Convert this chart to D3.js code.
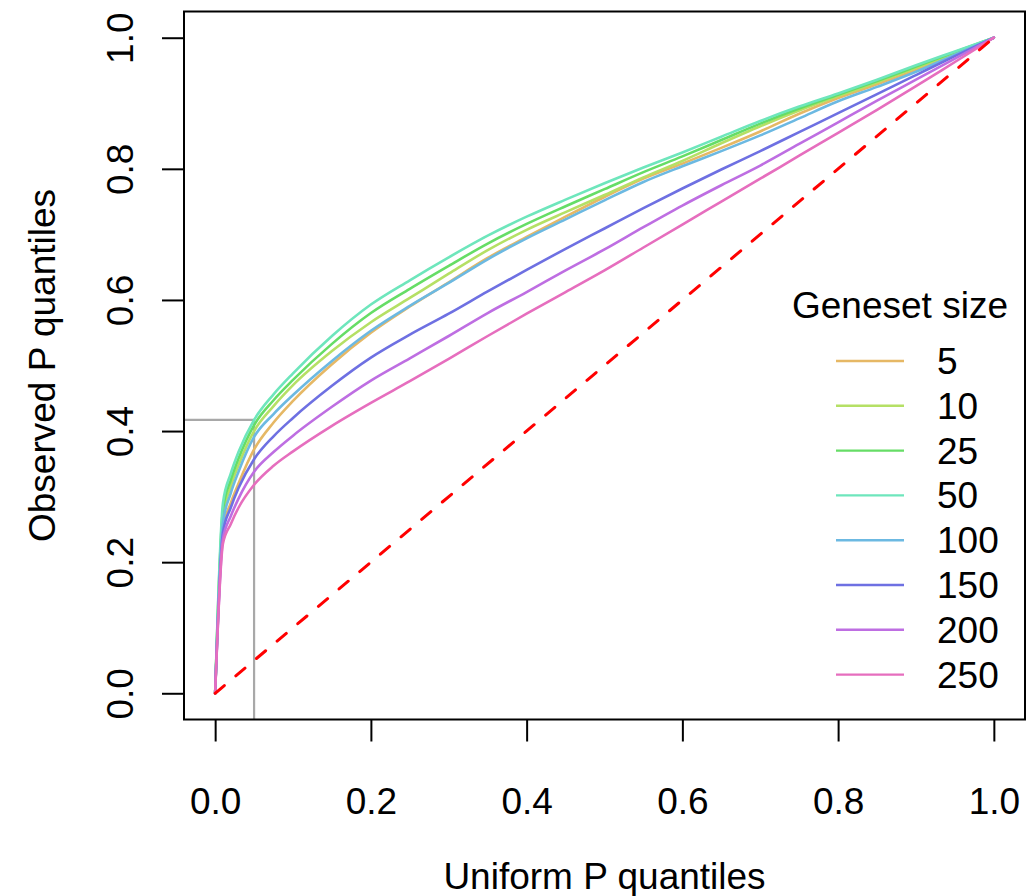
<!DOCTYPE html>
<html>
<head>
<meta charset="utf-8">
<script src="https://cdn.jsdelivr.net/npm/d3@7"></script>
<style>
  html, body { margin: 0; padding: 0; background: #fff; }
  text { font-family: "Liberation Sans", Arial, sans-serif; fill: #000; }
</style>
</head>
<body>
<svg id="chart" width="1026" height="896"></svg>
<script>
// ---- data ----
const uniformQ = [0, 0.01, 0.02, 0.03, 0.05, 0.075, 0.1, 0.15, 0.2, 0.25, 0.3, 0.35, 0.4, 0.45, 0.5, 0.55, 0.6, 0.65, 0.7, 0.75, 0.8, 0.85, 0.9, 0.95, 1];
const genesetSizes = ["5", "10", "25", "50", "100", "150", "200", "250"];
const obs5   = [0, 0.25, 0.290, 0.320, 0.372, 0.413, 0.446, 0.502, 0.550, 0.590, 0.627, 0.664, 0.696, 0.727, 0.757, 0.785, 0.808, 0.832, 0.857, 0.884, 0.908, 0.929, 0.951, 0.975, 1];
const obs10  = [0, 0.27, 0.315, 0.348, 0.400, 0.438, 0.470, 0.522, 0.566, 0.603, 0.640, 0.676, 0.707, 0.734, 0.760, 0.787, 0.812, 0.839, 0.865, 0.889, 0.911, 0.932, 0.954, 0.977, 1];
const obs25  = [0, 0.28, 0.325, 0.358, 0.409, 0.447, 0.478, 0.533, 0.580, 0.617, 0.652, 0.686, 0.716, 0.743, 0.769, 0.795, 0.819, 0.844, 0.869, 0.892, 0.913, 0.934, 0.956, 0.978, 1];
const obs50  = [0, 0.29, 0.335, 0.368, 0.417, 0.456, 0.488, 0.545, 0.593, 0.630, 0.665, 0.698, 0.727, 0.753, 0.778, 0.802, 0.825, 0.849, 0.873, 0.895, 0.915, 0.936, 0.958, 0.979, 1];
const obs100 = [0, 0.26, 0.305, 0.338, 0.391, 0.426, 0.455, 0.507, 0.553, 0.591, 0.626, 0.662, 0.694, 0.723, 0.752, 0.780, 0.804, 0.827, 0.851, 0.877, 0.903, 0.925, 0.948, 0.974, 1];
const obs150 = [0, 0.245, 0.283, 0.313, 0.357, 0.392, 0.420, 0.469, 0.512, 0.547, 0.579, 0.613, 0.646, 0.678, 0.709, 0.740, 0.770, 0.799, 0.827, 0.856, 0.885, 0.914, 0.943, 0.972, 1];
const obs200 = [0, 0.235, 0.270, 0.297, 0.338, 0.368, 0.393, 0.437, 0.477, 0.511, 0.545, 0.580, 0.612, 0.645, 0.677, 0.711, 0.744, 0.775, 0.805, 0.838, 0.871, 0.904, 0.936, 0.968, 1];
const obs250 = [0, 0.228, 0.258, 0.283, 0.318, 0.347, 0.369, 0.408, 0.443, 0.476, 0.510, 0.545, 0.579, 0.612, 0.645, 0.680, 0.715, 0.750, 0.785, 0.820, 0.855, 0.890, 0.926, 0.963, 1];
const seriesColors = ["#E6B865", "#B5E065", "#66DD66", "#6EE6BC", "#6CB9E2", "#6E70E2", "#BE6EE2", "#E66EBE"];
const xTicks = [0, 0.2, 0.4, 0.6, 0.8, 1.0];
const yTicks = [0, 0.2, 0.4, 0.6, 0.8, 1.0];
const cutoffX = 0.05;
const cutoffY = 0.417;

const allSeries = [obs5, obs10, obs25, obs50, obs100, obs150, obs200, obs250];

// ---- layout ----
const svg = d3.select("#chart");
const x = d3.scaleLinear().domain([-0.04, 1.04]).range([184, 1025]);
const y = d3.scaleLinear().domain([-0.04, 1.04]).range([719.5, 11.5]);

const plot = svg.append("g");
svg.append("clipPath").attr("id", "clip").append("rect")
  .attr("x", x(-0.04)).attr("y", y(1.04))
  .attr("width", x(1.04) - x(-0.04)).attr("height", y(-0.04) - y(1.04));

const inner = plot.append("g").attr("clip-path", "url(#clip)");

// gray guide lines
inner.append("line")
  .attr("x1", x(-0.04)).attr("x2", x(cutoffX))
  .attr("y1", y(cutoffY)).attr("y2", y(cutoffY))
  .attr("stroke", "#A8A8A8").attr("stroke-width", 2.2);
inner.append("line")
  .attr("x1", x(cutoffX)).attr("x2", x(cutoffX))
  .attr("y1", y(-0.04)).attr("y2", y(cutoffY))
  .attr("stroke", "#A8A8A8").attr("stroke-width", 2.2);

// curves
const line = d3.line()
  .x((d, i) => x(uniformQ[i]))
  .y(d => y(d))
  .curve(d3.curveMonotoneX);

allSeries.forEach((s, k) => {
  inner.append("path")
    .attr("d", line(s))
    .attr("fill", "none")
    .attr("stroke", seriesColors[k])
    .attr("stroke-width", 2.6)
    .attr("stroke-linejoin", "round")
    .attr("stroke-linecap", "round");
});

// identity dashed line
inner.append("line")
  .attr("x1", x(0)).attr("y1", y(0))
  .attr("x2", x(1)).attr("y2", y(1))
  .attr("stroke", "#FF0000").attr("stroke-width", 3)
  .attr("stroke-dasharray", "12,15")
  .attr("stroke-linecap", "round");

// box
plot.append("rect")
  .attr("x", x(-0.04)).attr("y", y(1.04))
  .attr("width", x(1.04) - x(-0.04)).attr("height", y(-0.04) - y(1.04))
  .attr("fill", "none").attr("stroke", "#000").attr("stroke-width", 2);

// x axis
const xAxis = d3.axisBottom(x).tickValues(xTicks).tickFormat(d3.format(".1f"))
  .tickSize(22).tickPadding(0);
const gx = svg.append("g").attr("transform", `translate(0,${y(-0.04)})`).call(xAxis);
gx.select(".domain").remove();
gx.selectAll(".tick line").attr("stroke", "#000").attr("stroke-width", 2);
gx.selectAll(".tick text")
  .attr("y", 94).attr("dy", null)
  .style("font-size", "37px").style("font-family", "'Liberation Sans', Arial, sans-serif");

// y axis
const yAxis = d3.axisLeft(y).tickValues(yTicks).tickFormat(d3.format(".1f"))
  .tickSize(22).tickPadding(0);
const gy = svg.append("g").attr("transform", `translate(${x(-0.04)},0)`).call(yAxis);
gy.select(".domain").remove();
gy.selectAll(".tick line").attr("stroke", "#000").attr("stroke-width", 2);
gy.selectAll(".tick text")
  .attr("x", null).attr("dy", null)
  .attr("text-anchor", "middle")
  .attr("transform", "translate(-51,0) rotate(-90)")
  .style("font-size", "37px").style("font-family", "'Liberation Sans', Arial, sans-serif");

// axis titles
svg.append("text")
  .attr("x", x(0.5)).attr("y", 889)
  .attr("text-anchor", "middle")
  .style("font-size", "37px")
  .text("Uniform P quantiles");
svg.append("text")
  .attr("transform", `translate(55,${y(0.5)}) rotate(-90)`)
  .attr("text-anchor", "middle")
  .style("font-size", "37px")
  .text("Observed P quantiles");

// legend
const legend = svg.append("g");
legend.append("text")
  .attr("x", 900).attr("y", 318)
  .attr("text-anchor", "middle")
  .style("font-size", "37px")
  .text("Geneset size");
genesetSizes.forEach((lab, k) => {
  const ly = 361 + k * 44.8;
  legend.append("line")
    .attr("x1", 836).attr("x2", 904)
    .attr("y1", ly).attr("y2", ly)
    .attr("stroke", seriesColors[k]).attr("stroke-width", 2.4);
  legend.append("text")
    .attr("x", 937).attr("y", ly + 13)
    .style("font-size", "37px")
    .text(lab);
});
</script>
</body>
</html>
